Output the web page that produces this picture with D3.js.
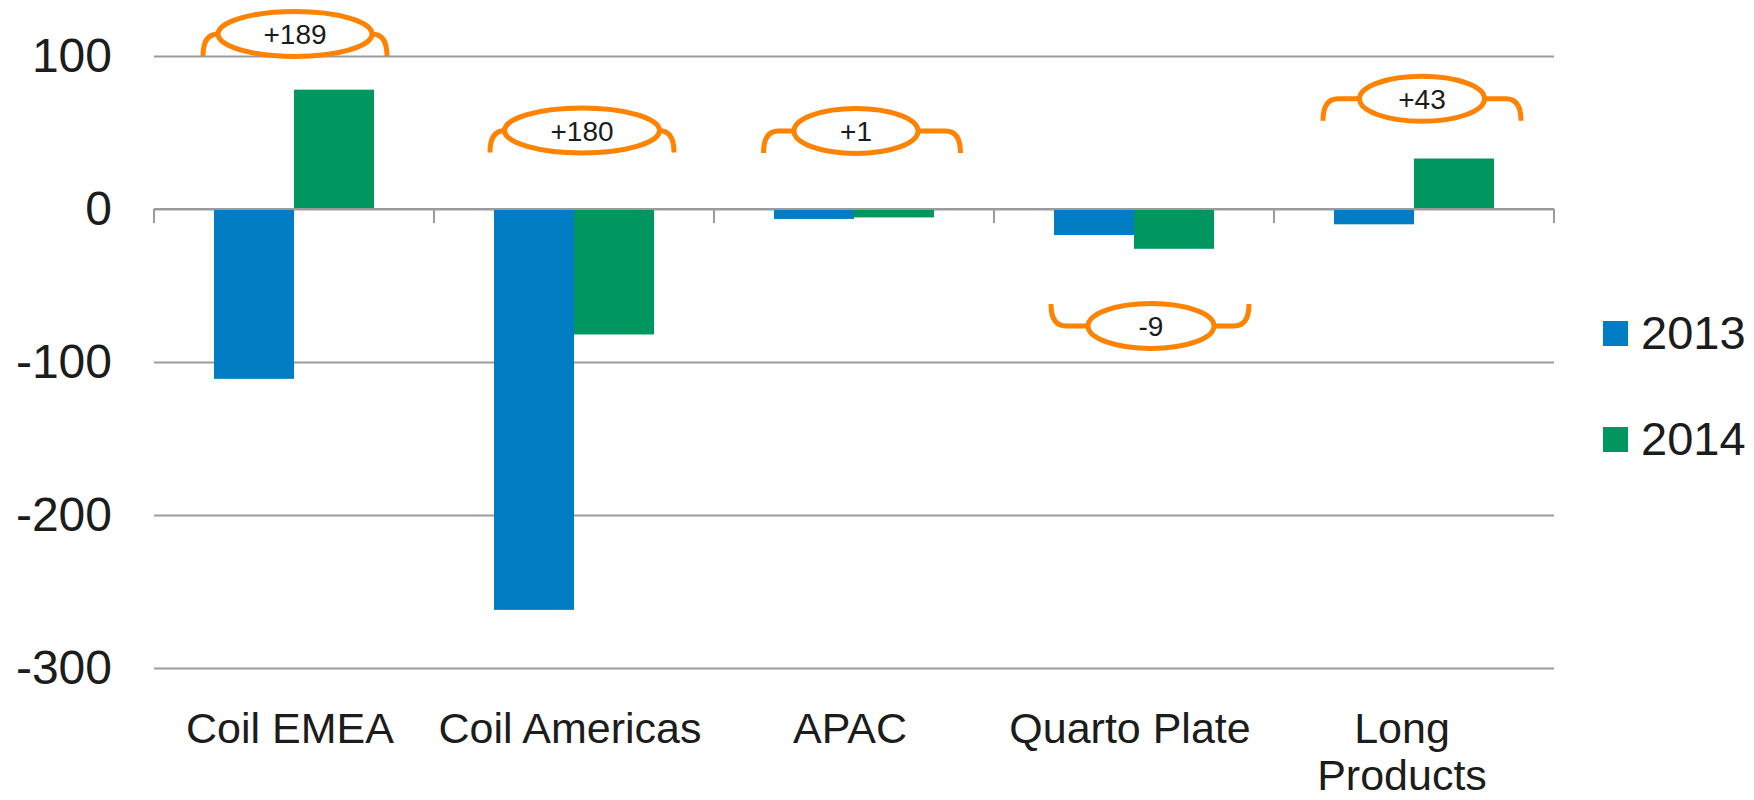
<!DOCTYPE html>
<html>
<head>
<meta charset="utf-8">
<script src="https://cdn.jsdelivr.net/npm/d3@7/dist/d3.min.js"></script>
<style>
  html, body { margin: 0; padding: 0; background: #fff; }
  svg { display: block; font-family: "Liberation Sans", Arial, sans-serif; }
</style>
</head>
<body>
<div id="chart"></div>
<script>
// 数据
const categories = ['Coil EMEA', 'Coil Americas', 'APAC', 'Quarto Plate', 'Long Products']
const seriesNames = ['2013', '2014']
const values2013 = [-111, -262, -6.5, -17, -10]
const values2014 = [78, -82, -5.5, -26, 33]
const changeLabels = ['+189', '+180', '+1', '-9', '+43']
const yTicks = [100, 0, -100, -200, -300]

// 配置
const width = 1754
const height = 800
const margin = { top: 56, right: 200, bottom: 132, left: 154 }
const colors = ['#007dc3', '#00965f']
const orange = '#ff8200'
const gridColor = '#9b9b9b'
const textColor = '#1c1c1c'

// 注释括号的摆放 (相对类别中心的偏移, y 为数值单位)
const noteLayout = [
  { dx: 1, ex: 1, y: 114.4, w: 184, rx: 77, flip: false },
  { dx: 8, ex: 8, y: 51.3, w: 184, rx: 77.5, flip: false },
  { dx: 8, ex: 2, y: 51, w: 197, rx: 62, flip: false },
  { dx: 16, ex: 17, y: -76.5, w: 198, rx: 63, flip: true },
  { dx: 8, ex: 8, y: 72, w: 198, rx: 62.5, flip: false }
]

const plotW = width - margin.left - margin.right
const data = categories.map((name, i) => ({
  name,
  values: [values2013[i], values2014[i]],
  change: changeLabels[i]
}))

const svg = d3.select('#chart')
  .append('svg')
  .attr('width', width)
  .attr('height', height)

// 比例尺
const x = d3.scaleBand()
  .domain(categories)
  .range([margin.left, margin.left + plotW])
  .paddingInner(3 / 7)
  .paddingOuter(3 / 14)
const xSub = d3.scaleBand()
  .domain(seriesNames)
  .range([0, x.bandwidth()])
const y = d3.scaleLinear()
  .domain([-300, 100])
  .range([668, margin.top])

// y 轴 + 网格线
const yAxis = svg.append('g')
  .attr('transform', `translate(${margin.left},0)`)
  .call(d3.axisLeft(y).tickValues(yTicks).tickSize(-plotW).tickPadding(42).tickFormat((d) => String(d)))
yAxis.select('.domain').remove()
yAxis.selectAll('.tick line')
  .attr('stroke', gridColor)
  .attr('stroke-width', 2)
yAxis.selectAll('.tick text')
  .attr('fill', textColor)
  .attr('font-size', 48)
  .attr('font-family', '"Liberation Sans", Arial, sans-serif')

// 柱子
const groups = svg.append('g')
  .selectAll('g')
  .data(data)
  .join('g')
  .attr('transform', (d) => `translate(${x(d.name)},0)`)
groups.selectAll('rect')
  .data((d) => d.values.map((v, j) => ({ key: seriesNames[j], value: v, j })))
  .join('rect')
  .attr('x', (d) => xSub(d.key))
  .attr('width', xSub.bandwidth())
  .attr('y', (d) => y(Math.max(0, d.value)))
  .attr('height', (d) => Math.abs(y(d.value) - y(0)))
  .attr('fill', (d) => colors[d.j])

// 零轴及刻度
const step = x.step()
const zeroY = y(0)
const bounds = d3.range(categories.length + 1).map((k) => x(categories[0]) - x.paddingOuter() * step + k * step)
svg.append('line')
  .attr('x1', bounds[0]).attr('x2', bounds[bounds.length - 1])
  .attr('y1', zeroY).attr('y2', zeroY)
  .attr('stroke', gridColor).attr('stroke-width', 2)
svg.append('g')
  .selectAll('line')
  .data(bounds)
  .join('line')
  .attr('x1', (d) => d).attr('x2', (d) => d)
  .attr('y1', zeroY).attr('y2', zeroY + 14)
  .attr('stroke', gridColor).attr('stroke-width', 2)

// x 轴文字
const xLabels = svg.append('g')
  .selectAll('text')
  .data(data)
  .join('text')
  .attr('y', 743)
  .attr('text-anchor', 'middle')
  .attr('font-size', 43)
  .attr('fill', textColor)
xLabels.each(function (d) {
  const words = d.name === 'Long Products' ? ['Long', 'Products'] : [d.name]
  d3.select(this).selectAll('tspan')
    .data(words)
    .join('tspan')
    .attr('x', x(d.name) + x.bandwidth() / 2 - (words.length > 1 ? 12 : 4))
    .attr('dy', (w, i) => (i === 0 ? 0 : 47))
    .text((w) => w)
})

// 变化注释
const notes = svg.append('g')
  .selectAll('g')
  .data(data)
  .join('g')
notes.each(function (d, i) {
  const L = noteLayout[i]
  const g = d3.select(this)
  const cx = x(d.name) + x.bandwidth() / 2
  const bx = cx + L.dx
  const top = y(L.y)
  const base = top + (L.flip ? -22 : 22)
  const x0 = bx - L.w / 2
  const x1 = bx + L.w / 2
  const r = 15
  g.append('path')
    .attr('d', `M${x0},${base} Q${x0},${top} ${x0 + r},${top} L${x1 - r},${top} Q${x1},${top} ${x1},${base}`)
    .attr('fill', 'none')
    .attr('stroke', orange)
    .attr('stroke-width', 5)
  g.append('ellipse')
    .attr('cx', cx + L.ex)
    .attr('cy', top)
    .attr('rx', L.rx)
    .attr('ry', 22.5)
    .attr('fill', '#fff')
    .attr('stroke', orange)
    .attr('stroke-width', 5)
  g.append('text')
    .attr('x', cx + L.ex)
    .attr('y', top)
    .attr('dy', '0.36em')
    .attr('text-anchor', 'middle')
    .attr('font-size', 28)
    .attr('fill', textColor)
    .text(d.change)
})

// 图例
const legend = svg.append('g')
  .attr('transform', 'translate(1603,321)')
  .selectAll('g')
  .data(seriesNames)
  .join('g')
  .attr('transform', (d, i) => `translate(0,${i * 106})`)
legend.append('rect')
  .attr('width', 25)
  .attr('height', 25)
  .attr('fill', (d, i) => colors[i])
legend.append('text')
  .attr('x', 38)
  .attr('y', 28)
  .attr('font-size', 47)
  .attr('fill', textColor)
  .text((d) => d)
</script>
</body>
</html>
